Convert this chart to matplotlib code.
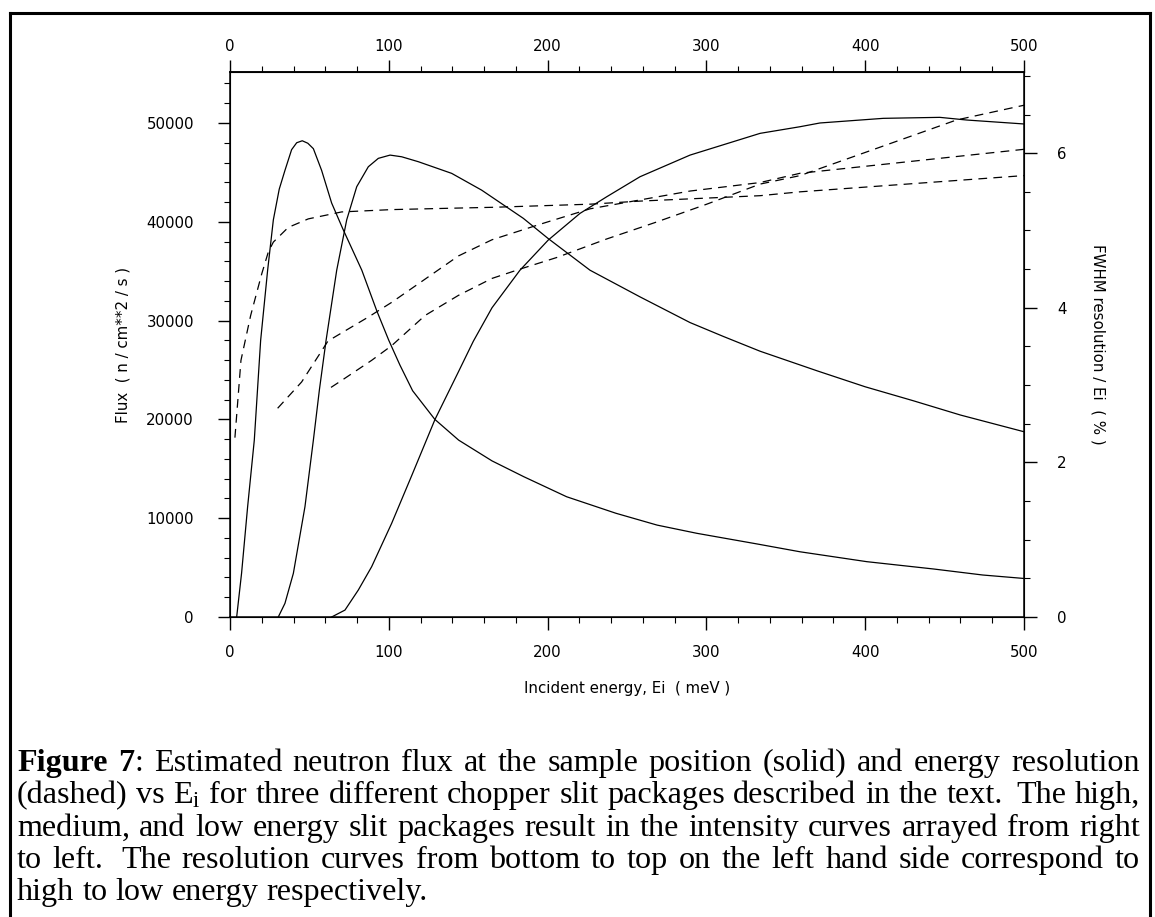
import re
import numpy as np
import matplotlib.pyplot as plt
from matplotlib.ticker import MultipleLocator
from matplotlib.lines import Line2D

# Flux curves (solid, left axis): Ei in meV, flux in n/cm**2/s
e_flux_low = [4.2, 7.3, 11.1, 15.3, 19.3, 23.7, 27.3, 31, 34.6, 38.8, 42, 45.5, 49, 52.5, 57.7, 64,
              71, 83, 92.4, 100, 107, 115, 129, 144, 165, 185, 212, 243, 269, 294, 332, 359, 401,
              443, 474, 500]
flux_low = [0, 4450, 11160, 17900, 28000, 35100, 40200, 43300, 45200, 47300, 48000, 48200, 47950,
            47400, 45200, 41900, 39300, 35100, 31000, 28000, 25500, 22900, 20000, 17900, 15800,
            14200, 12170, 10500, 9300, 8470, 7390, 6600, 5600, 4860, 4250, 3900]

e_flux_med = [30.4, 34.6, 39.9, 47.2, 52.5, 56.3, 60.5, 67.2, 73.5, 79.8, 87.1, 93.4, 100.8, 108.1,
              118.6, 139.6, 158.5, 184.7, 200.4, 226.7, 258.2, 289.7, 310.6, 333.8, 370, 400, 430,
              460, 500]
flux_med = [0, 1380, 4420, 11160, 17900, 23000, 28000, 35100, 40200, 43550, 45570, 46420, 46750,
            46580, 46080, 44900, 43200, 40350, 38300, 35100, 32400, 29800, 28400, 26900, 24900,
            23300, 21900, 20440, 18750]

e_flux_high = [64, 72.4, 80.8, 89.2, 101.8, 114.4, 129.1, 143.8, 153.2, 165, 182.6, 200.4, 220.4,
               237.2, 258.2, 289.7, 333.8, 358.9, 371.5, 411.4, 447, 463.9, 500]
flux_high = [0, 700, 2730, 5090, 9480, 14300, 20000, 24800, 27900, 31300, 35100, 38150, 40850,
             42530, 44560, 46750, 48950, 49620, 50000, 50470, 50570, 50300, 49900]

# Resolution curves (dashed, right axis): FWHM / Ei in %
e_res_low = [3.1, 6.9, 13, 20, 24.1, 27.3, 36.7, 49.3, 70.3, 101.8, 143.8, 166, 226.7, 258.2,
             333.8, 359, 500]
res_low = [2.32, 3.32, 3.9, 4.44, 4.72, 4.85, 5.04, 5.15, 5.24, 5.27, 5.29, 5.30, 5.34, 5.38,
           5.45, 5.50, 5.71]

e_res_med = [30, 45.1, 61.7, 87.1, 101.8, 122.8, 143.8, 165, 195.2, 226.7, 289.7, 333.8, 359, 500]
res_med = [2.70, 3.04, 3.57, 3.88, 4.07, 4.37, 4.67, 4.88, 5.08, 5.28, 5.51, 5.62, 5.74, 6.05]

e_res_high = [63.6, 70.3, 89.2, 101.8, 122.8, 143.8, 165, 182.6, 205.7, 237.2, 268.7, 300.2,
              333.8, 359, 457.6, 500]
res_high = [2.97, 3.06, 3.32, 3.51, 3.90, 4.16, 4.38, 4.50, 4.65, 4.89, 5.11, 5.34, 5.60, 5.71,
            6.43, 6.62]

x_ticks = [0, 100, 200, 300, 400, 500]
flux_ticks = [0, 10000, 20000, 30000, 40000, 50000]
res_ticks = [0, 2, 4, 6]

caption = [
    "**Figure** **7**: Estimated neutron flux at the sample position (solid) and energy resolution",
    "(dashed) vs E$_\\mathrm{i}$ for three different chopper slit packages described in the text.  The high,",
    "medium, and low energy slit packages result in the intensity curves arrayed from right",
    "to left.  The resolution curves from bottom to top on the left hand side correspond to",
    "high to low energy respectively.",
]

W, H = 1155, 917
plt.rcParams['font.family'] = 'DejaVu Sans'
plt.rcParams['mathtext.fontset'] = 'custom'
plt.rcParams['mathtext.rm'] = 'Liberation Serif'
plt.rcParams['mathtext.it'] = 'Liberation Serif:italic'

tick_fs = 10.8

fig = plt.figure(figsize=(W / 100, H / 100), dpi=100)
ax = fig.add_axes([230 / W, 1 - 617 / H, 794 / W, 545 / H])

for e, f in [(e_flux_low, flux_low), (e_flux_med, flux_med), (e_flux_high, flux_high)]:
    ax.plot(e, f, color='black', lw=0.9)

ax.set_xlim(0, 500)
ax.set_ylim(0, 55160)
ax.set_xticks(x_ticks)
ax.set_yticks(flux_ticks)
ax.xaxis.set_minor_locator(MultipleLocator(20))
ax.yaxis.set_minor_locator(MultipleLocator(2000))
ax.tick_params(which='major', direction='out', length=9, width=1.0, labelsize=tick_fs)
ax.tick_params(which='minor', direction='out', length=4, width=0.8)
ax.tick_params(axis='y', which='major', pad=17)
ax.tick_params(axis='x', which='major', pad=11)
ax.set_xlabel('Incident energy, Ei  ( meV )', fontsize=tick_fs, labelpad=15)
ax.set_ylabel('Flux  ( n / cm**2 / s )', fontsize=tick_fs, labelpad=11)
for sp in ax.spines.values():
    sp.set_linewidth(1.1)

# top energy axis, same scale, labels closer to the ticks
top = ax.secondary_xaxis('top')
top.set_xticks(x_ticks)
top.xaxis.set_minor_locator(MultipleLocator(20))
top.tick_params(which='major', direction='out', length=9, width=1.0, labelsize=tick_fs, pad=4)
top.tick_params(which='minor', direction='out', length=4, width=0.8)
top.spines['top'].set_linewidth(1.1)

ax2 = ax.twinx()
for e, r in [(e_res_low, res_low), (e_res_med, res_med), (e_res_high, res_high)]:
    ax2.plot(e, r, color='black', lw=0.9, dashes=(7, 5))
ax2.set_ylim(0, 7.05)
ax2.set_yticks(res_ticks)
ax2.yaxis.set_minor_locator(MultipleLocator(0.5))
ax2.tick_params(which='major', direction='out', length=9, width=1.0, labelsize=tick_fs, pad=15)
ax2.tick_params(which='minor', direction='out', length=4, width=0.8)
ax2.set_ylabel('FWHM resolution / Ei  ( % )', fontsize=tick_fs, rotation=270, va='bottom',
               labelpad=17)

# page frame around the figure
frame_kw = dict(transform=fig.transFigure, color='black', lw=2.2)
fig.add_artist(Line2D([10 / W, 10 / W], [0, 1 - 13 / H], **frame_kw))
fig.add_artist(Line2D([10 / W, 1150 / W], [1 - 13 / H, 1 - 13 / H], **frame_kw))
fig.add_artist(Line2D([1150 / W, 1150 / W], [0, 1 - 13 / H], **frame_kw))

# justified caption
fig.canvas.draw()
renderer = fig.canvas.get_renderer()
cap_left, cap_right = 17, 1140
cap_base, cap_step = 771, 32.3


def word_parts(word):
    parts = []
    for seg in re.split(r'(\*\*[^*]+\*\*)', word):
        if not seg:
            continue
        if seg.startswith('**'):
            parts.append((seg[2:-2], 'bold'))
        else:
            parts.append((seg, 'normal'))
    return parts


def seg_width(s, weight, fs):
    t = fig.text(0, 0, s, fontsize=fs, family='Liberation Serif', weight=weight)
    w = t.get_window_extent(renderer).width
    t.remove()
    return w


def layout(line, fs):
    words, gaps, pending = [], [], 0
    for tok in line.split(' '):
        if tok == '':
            pending += 0.6
            continue
        if words:
            gaps.append(1 + pending)
        pending = 0
        parts = word_parts(tok)
        words.append((parts, sum(seg_width(s, wt, fs) for s, wt in parts)))
    return words, gaps


# size the caption so the widest full line needs little stretching
fs0 = 20.0
sp0 = seg_width('a a', 'normal', fs0) - seg_width('aa', 'normal', fs0)
natural = []
for line in caption[:-1]:
    words, gaps = layout(line, fs0)
    natural.append(sum(w for _, w in words) + sp0 * sum(gaps))
cap_fs = fs0 * (cap_right - cap_left) / max(natural) * 0.995
space_w = seg_width('a a', 'normal', cap_fs) - seg_width('aa', 'normal', cap_fs)

for i, line in enumerate(caption):
    words, gaps = layout(line, cap_fs)
    total = sum(w for _, w in words)
    if i < len(caption) - 1:
        unit = (cap_right - cap_left - total) / sum(gaps)
    else:
        unit = space_w
    x = cap_left
    y = 1 - (cap_base + i * cap_step) / H
    for k, (parts, w) in enumerate(words):
        xx = x
        for s, wt in parts:
            fig.text(xx / W, y, s, fontsize=cap_fs, family='Liberation Serif', weight=wt,
                     va='baseline', ha='left')
            xx += seg_width(s, wt, cap_fs)
        x += w
        if k < len(gaps):
            x += unit * gaps[k]

fig.savefig('out.png', dpi=100)
